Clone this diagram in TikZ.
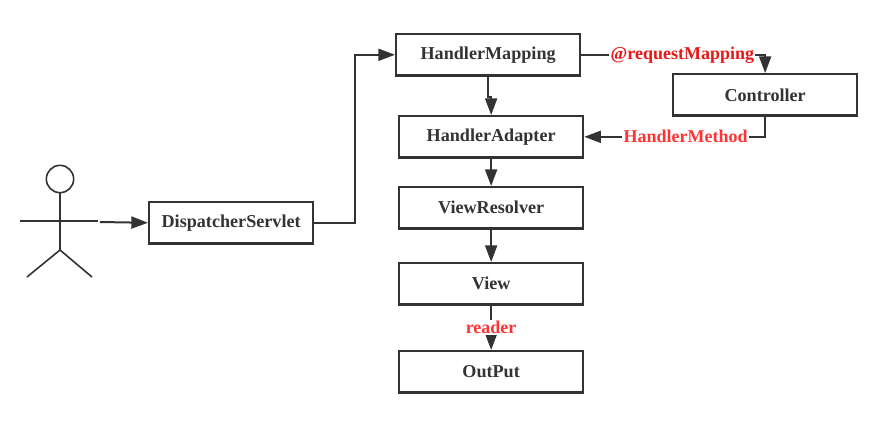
\documentclass[tikz,border=0pt]{standalone}
\usepackage{fontspec}
\setmainfont{Liberation Serif}
\usetikzlibrary{arrows.meta}
\definecolor{ink}{HTML}{333333}
\definecolor{lblred}{HTML}{FF3333}
\definecolor{lbldeep}{HTML}{E81818}
\tikzset{
  px/.style={x=0.75pt,y=-0.75pt},
  boxnode/.style={draw=ink,line width=1.7pt,fill=white,minimum height=31pt,inner sep=0pt,text=ink,font=\bfseries\fontsize{13.6}{15}\selectfont,anchor=north west},
  wide/.style={boxnode,minimum width=138pt},
  conn/.style={draw=ink,line width=1.5pt,-{Triangle[length=12.5pt,width=9pt]}},
  lbl/.style={fill=white,inner sep=1pt,font=\bfseries\fontsize{13.5}{15}\selectfont,text=lblred},
  figure/.style={draw=ink,line width=1.2pt}
}
\begin{document}
\begin{tikzpicture}[px]
\useasboundingbox (0,0) rectangle (881,422);
\node[boxnode,minimum width=123pt] (ds) at (148,201) {DispatcherServlet};
\node[wide] (hm) at (395,33) {HandlerMapping};
\node[wide] (ha) at (398,115) {HandlerAdapter};
\node[wide] (vr) at (398,186) {ViewResolver};
\node[wide] (vw) at (398,262) {View};
\node[wide] (op) at (398,350) {OutPut};
\node[wide] (ct) at (672,73) {Controller};
% actor
\node[draw=ink,line width=1.2pt,circle,minimum size=20.5pt,inner sep=0pt] (head) at (60,179) {};
\coordinate (hip) at (60,250);
\coordinate (armL) at (20,221);
\coordinate (armR) at (98,221);
\coordinate (legL) at (27,277);
\coordinate (legR) at (92,277);
\coordinate (userOut) at (100,222);
\draw[figure] (head.south) -- (hip);
\draw[figure] (armL) -- (armR);
\draw[figure] (legL) -- (hip) -- (legR);
% connectors
\draw[conn] (userOut) -- (ds.west);
\draw[conn] (ds.east) -- ++(41,0) |- (hm.west);
\draw[conn] (hm.south) -- ++(0,20) -- ++(3,0) -- (ha.north);
\draw[conn] (ha.south) -- (vr.north);
\draw[conn] (vr.south) -- (vw.north);
\draw[conn] (vw.south) -- node[lbl,pos=0.5] (lr) {reader} (op.north);
\draw[conn] (hm.east) -| node[lbl,text=lbldeep,pos=0.275] (lq) {@requestMapping} (ct.north);
\draw[conn] (ct.south) |- node[lbl,pos=0.72] (lh) {HandlerMethod} (ha.east);
\end{tikzpicture}
\end{document}
